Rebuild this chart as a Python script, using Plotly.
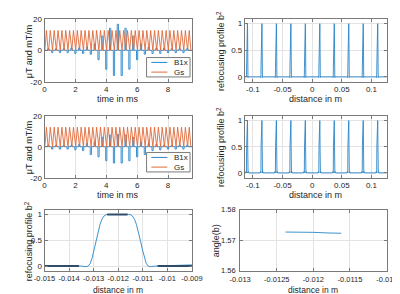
import plotly.graph_objects as go

# ---------------- data ----------------
# RF sub-pulse (hard pulse) centre times, ms
pulse_times_ms = [0.0, 0.25, 0.5, 0.75, 1.0, 1.25, 1.5, 1.75, 2.0, 2.25, 2.5, 2.75,
                  3.0, 3.25, 3.5, 3.75, 4.0, 4.25, 4.5, 4.75, 5.0, 5.25, 5.5, 5.75,
                  6.0, 6.25, 6.5, 6.75, 7.0, 7.25, 7.5, 7.75, 8.0, 8.25, 8.5, 8.75,
                  9.0, 9.25, 9.5]
# B1x amplitude of each sub-pulse (uT), top and middle pulse
b1x_top = [0, 1, -1.5, 1, -1.5, 1, -1.5, 1.5, -2, 1.5, -2, 2, -2.5, 4, -6, 9, -12, 14,
           -16, 16.5, -16, 14, -12, 9, -6, 4, -2.5, 2, -2, 1.5, -2, 1.5, -1.5, 1,
           -1.5, 1, -1.5, 1, 0]
b1x_mid = [0, 1, -1.5, 1, -1.5, 1, -1.5, 1, -2, 1.5, -2.5, 2, -5, 3, -6.5, 6, -9, 7.5,
           -10.5, 8, -10.5, 7.5, -9, 6, -6.5, 3, -5, 2, -2.5, 1.5, -2, 1, -1.5, 1,
           -1.5, 1, -1.5, 1, 0]
# gradient triangle peak times (ms) and peak values (mT/m)
gs_peak_times_ms = [0.125, 0.375, 0.625, 0.875, 1.125, 1.375, 1.625, 1.875, 2.125,
                    2.375, 2.625, 2.875, 3.125, 3.375, 3.625, 3.875, 4.125, 4.375,
                    4.625, 4.875, 5.125, 5.375, 5.625, 5.875, 6.125, 6.375, 6.625,
                    6.875, 7.125, 7.375, 7.625, 7.875, 8.125, 8.375, 8.625, 8.875,
                    9.125, 9.375]
gs_peaks = [12.6, 12.6, 12.6, 12.6, 12.6, 12.6, 12.6, 12.6, 12.6, 12.6, 12.6, 12.6,
            12.6, 12.6, 12.6, 12.6, 12.6, 12.6, 12.6, 12.6, 12.6, 12.6, 12.6, 12.6,
            12.6, 12.6, 12.6, 12.6, 12.6, 12.6, 12.6, 12.6, 12.6, 12.6, 12.6, 12.6,
            12.6, 12.6]

# refocusing profile: slice centres (m) and single-slice shape (offset m, value)
slice_centres_m = [-0.1096, -0.0852, -0.0608, -0.0364, -0.012, 0.0124, 0.0368,
                   0.0612, 0.0856, 0.110]
profile_limits_m = [-0.1135, 0.1255]
shape_dx = [-0.0015, -0.00132, -0.00122, -0.00114, -0.00106, -0.00098, -0.0009,
            -0.00082, -0.00074, -0.00066, -0.00058, -0.0005, -0.00042,
            0.00042, 0.0005, 0.00058, 0.00066, 0.00074, 0.00082, 0.0009, 0.00098,
            0.00106, 0.00114, 0.00122, 0.00132, 0.0015]
shape_val = [0, -0.012, 0, 0.05, 0.16, 0.33, 0.5, 0.67, 0.81, 0.91, 0.97, 0.995, 1.0,
             1.0, 0.995, 0.97, 0.91, 0.81, 0.67, 0.5, 0.33, 0.16, 0.05, 0, -0.012, 0]
shape2_dx = [-0.0026, -0.002, -0.0015, -0.00122, -0.0009, -0.00058, -0.00042,
             0.00042, 0.00058, 0.0009, 0.00122, 0.0015, 0.002, 0.0026]
shape2_val = [0, 0.025, 0, 0, 0.5, 0.97, 1.0, 1.0, 0.97, 0.5, 0, 0, 0.025, 0]
# dense ripple regions seen in the zoomed profile (x0, x1, level)
ripple_x0 = [-0.015, -0.01245, -0.0104]
ripple_x1 = [-0.0136, -0.01162, -0.009]
ripple_lvl = [0, 1, 0]

# phase of b across the slice
angle_x = [-0.01238, -0.0122, -0.012, -0.0118, -0.01162]
angle_y = [1.5727, 1.5727, 1.5726, 1.5724, 1.5723]

# tick labels
t_ticks = [0, 2, 4, 6, 8]
b_ticks = [-20, 0, 20]
p_ticks = [0, 0.5, 1]
p_ticklab = ["0", "0.5", "1"]
z_ticks = [-0.1, -0.05, 0, 0.05, 0.1]
z_ticklab = ["-0.1", "-0.05", "0", "0.05", "0.1"]
zz_ticks = [-0.015, -0.014, -0.013, -0.012, -0.011, -0.01, -0.009]
zz_ticklab = ["-0.015", "-0.014", "-0.013", "-0.012", "-0.011", "-0.01", "-0.009"]
za_ticks = [-0.013, -0.0125, -0.012, -0.0115, -0.011]
za_ticklab = ["-0.013", "-0.0125", "-0.012", "-0.0115", "-0.011"]
a_ticks = [1.56, 1.57, 1.58]
a_ticklab = ["1.56", "1.57", "1.58"]

# ---------------- styles ----------------
BLUE = "#2a86c8"
ORANGE = "#e06a3a"
TXT = "#262626"
AX = "#7a7a7a"
GRID = "#e3e3e3"
FONT = "Liberation Sans"
W, H = 400, 294
BLIP_W = 0.08
GS_HALF = 0.105
LW = 0.9


def rf_wave(times, amps):
    xs, ys = [], []
    for t, a in zip(times, amps):
        xs += [t - BLIP_W / 2, t - BLIP_W / 2, t + BLIP_W / 2, t + BLIP_W / 2]
        ys += [0, a, a, 0]
    return xs, ys


def grad_wave(times, peaks):
    xs, ys = [], []
    for t, g in zip(times, peaks):
        xs += [t - GS_HALF, t, t + GS_HALF]
        ys += [0, g, 0]
    return xs, ys


def profile(dx, val):
    xs, ys = [profile_limits_m[0]], [0]
    for c in slice_centres_m:
        xs += [c + d for d in dx]
        ys += list(val)
    xs.append(profile_limits_m[1])
    ys.append(0)
    return xs, ys


fig = go.Figure()

# top-left
x, y = rf_wave(pulse_times_ms, b1x_top)
fig.add_trace(go.Scatter(x=x, y=y, mode="lines", line=dict(color=BLUE, width=LW),
                         xaxis="x", yaxis="y", showlegend=False))
x, y = grad_wave(gs_peak_times_ms, gs_peaks)
fig.add_trace(go.Scatter(x=x, y=y, mode="lines", line=dict(color=ORANGE, width=LW),
                         xaxis="x", yaxis="y", showlegend=False))
# top-right
x, y = profile(shape_dx, shape_val)
fig.add_trace(go.Scatter(x=x, y=y, mode="lines", line=dict(color=BLUE, width=LW),
                         xaxis="x2", yaxis="y2", showlegend=False))
# middle-left
x, y = rf_wave(pulse_times_ms, b1x_mid)
fig.add_trace(go.Scatter(x=x, y=y, mode="lines", line=dict(color=BLUE, width=LW),
                         xaxis="x3", yaxis="y3", showlegend=False))
x, y = grad_wave(gs_peak_times_ms, gs_peaks)
fig.add_trace(go.Scatter(x=x, y=y, mode="lines", line=dict(color=ORANGE, width=LW),
                         xaxis="x3", yaxis="y3", showlegend=False))
# middle-right
x, y = profile(shape2_dx, shape2_val)
fig.add_trace(go.Scatter(x=x, y=y, mode="lines", line=dict(color=BLUE, width=LW),
                         xaxis="x4", yaxis="y4", showlegend=False))
# bottom-left (zoom on one slice)
x, y = profile(shape_dx, shape_val)
fig.add_trace(go.Scatter(x=x, y=y, mode="lines", line=dict(color=BLUE, width=LW),
                         xaxis="x5", yaxis="y5", showlegend=False))
for x0, x1, lv in zip(ripple_x0, ripple_x1, ripple_lvl):
    fig.add_trace(go.Scatter(x=[x0, x1], y=[lv, lv], mode="lines",
                             line=dict(color="#2f4d69", width=2),
                             xaxis="x5", yaxis="y5", showlegend=False))
# bottom-right
fig.add_trace(go.Scatter(x=angle_x, y=angle_y, mode="lines",
                         line=dict(color=BLUE, width=LW),
                         xaxis="x6", yaxis="y6", showlegend=False))


def px_dom(a, b):
    return [a / W, b / W]


def py_dom(top, bot):
    return [1 - bot / H, 1 - top / H]


def axis(dom, rng, tv, tt, anchor, fs=8, standoff=0):
    return dict(domain=dom, range=rng, tickvals=tv, ticktext=tt, anchor=anchor,
                showline=True, mirror="ticks", linecolor=AX, linewidth=1,
                ticks="inside", ticklen=3, tickcolor=AX, showgrid=True,
                gridcolor=GRID, gridwidth=1, zeroline=False, tickangle=0,
                ticklabelstandoff=standoff,
                tickfont=dict(family=FONT, size=fs, color=TXT))


L1, R1 = 27, 183
L2, R2 = 239, 389
B_TOP, B_BOT = 204, 267
fig.update_layout(
    xaxis=axis(px_dom(L1, R1), [0, 9.55], t_ticks, [str(v) for v in t_ticks], "y"),
    yaxis=axis(py_dom(7, 72), [-20, 20], b_ticks, [str(v) for v in b_ticks], "x"),
    xaxis2=axis(px_dom(L2, R2), profile_limits_m, z_ticks, z_ticklab, "y2"),
    yaxis2=axis(py_dom(7, 72), [-0.092, 1.092], p_ticks, p_ticklab, "x2"),
    xaxis3=axis(px_dom(L1, R1), [0, 9.55], t_ticks, [str(v) for v in t_ticks], "y3"),
    yaxis3=axis(py_dom(107, 171), [-20, 20], b_ticks, [str(v) for v in b_ticks], "x3"),
    xaxis4=axis(px_dom(L2, R2), profile_limits_m, z_ticks, z_ticklab, "y4"),
    yaxis4=axis(py_dom(107, 171), [-0.092, 1.092], p_ticks, p_ticklab, "x4"),
    xaxis5=axis(px_dom(L1, R1), [-0.015, -0.009], zz_ticks, zz_ticklab, "y5", 7.5),
    yaxis5=axis(py_dom(B_TOP, B_BOT), [-0.092, 1.092], p_ticks, p_ticklab, "x5"),
    xaxis6=axis(px_dom(234, R2), [-0.013, -0.011], za_ticks, za_ticklab, "y6", 7.5, 1),
    yaxis6=axis(py_dom(B_TOP, B_BOT), [1.56, 1.58], a_ticks, a_ticklab, "x6", 7.5, 2),
    width=W, height=H, margin=dict(l=0, r=0, t=0, b=0),
    paper_bgcolor="white", plot_bgcolor="white", showlegend=False,
    font=dict(family=FONT, size=9, color=TXT),
)

anns = []


def txt(x, y, s, angle=0, size=9, xanchor="center"):
    anns.append(dict(x=x / W, y=1 - y / H, xref="paper", yref="paper", text=s,
                     showarrow=False, textangle=angle, xanchor=xanchor,
                     yanchor="middle", font=dict(family=FONT, size=size, color=TXT)))


ylab_p = "refocusing profile b<sup>2</sup>"
txt(10, 40, "μT and mT/m", -90)
txt(213, 40, ylab_p, -90)
txt(10, 139, "μT and mT/m", -90)
txt(213, 139, ylab_p, -90)
txt(10, 236, ylab_p, -90)
txt(208, 236, "angle(b)", -90)
txt((L1 + R1) / 2, 90, "time in ms")
txt((L2 + R2) / 2, 90, "distance in m")
txt((L1 + R1) / 2, 189, "time in ms")
txt((L2 + R2) / 2, 189, "distance in m")
txt((L1 + R1) / 2, 287, "distance in m", 0, 8.5)
txt((234 + R2) / 2, 287, "distance in m", 0, 8.5)

shapes = []
for top in (47, 145):
    shapes.append(dict(type="rect", xref="paper", yref="paper",
                       x0=135 / W, x1=181 / W, y0=1 - (top + 20) / H, y1=1 - top / H,
                       line=dict(color=AX, width=1), fillcolor="white", layer="above"))
    for i, (col, name) in enumerate([(BLUE, "B1x"), (ORANGE, "Gs")]):
        yy = top + 5 + 10 * i
        shapes.append(dict(type="line", xref="paper", yref="paper",
                           x0=140 / W, x1=157 / W, y0=1 - yy / H, y1=1 - yy / H,
                           line=dict(color=col, width=1), layer="above"))
        txt(162, yy, name, 0, 8, "left")

fig.update_layout(annotations=anns, shapes=shapes)
fig.write_html("out.html")
